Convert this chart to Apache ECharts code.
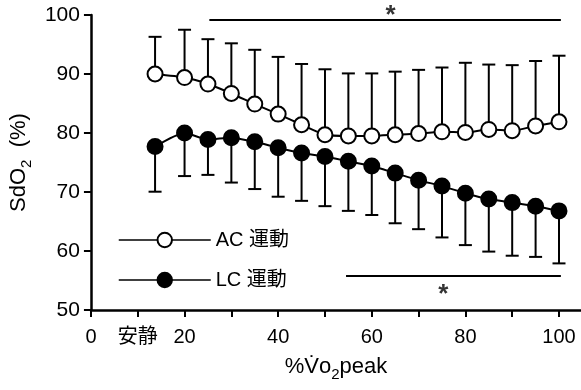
<!DOCTYPE html>
<html>
<head>
<meta charset="utf-8">
<script src="https://cdn.jsdelivr.net/npm/echarts@6/dist/echarts.min.js"></script>
<style>html,body{margin:0;padding:0;background:#fff}#c{width:581px;height:390px}</style>
</head>
<body>
<div id="c"></div>
<script>
var xValues = [13.7,20,25,30,35,40,45,50,55,60,65,70,75,80,85,90,95,100];
var acMean  = [90.0,89.4,88.3,86.7,84.9,83.2,81.4,79.7,79.5,79.5,79.7,79.9,80.2,80.1,80.6,80.4,81.2,81.9];
var acUpper = [96.3,97.5,95.9,95.2,94.1,92.9,91.7,90.8,90.1,90.1,90.4,90.7,91.1,91.9,91.6,91.5,92.2,93.1];
var lcMean  = [77.7,80.0,78.9,79.2,78.5,77.5,76.6,76.0,75.2,74.4,73.2,72.0,71.0,69.8,68.8,68.2,67.6,66.8];
var lcLower = [70.05,72.7,72.9,71.6,70.5,69.2,68.5,67.6,66.8,66.1,64.7,63.7,62.3,61.0,59.9,59.2,59.0,57.9];
var xTicks = [0,10,20,30,40,50,60,70,80,90,100];
var xLabels = [0,10,20,40,60,80,100];
var restLabel = '安静';
var sigTop = [[25.3,99.15],[100.4,99.15]];
var sigBottom = [[54.5,55.76],[100.4,55.76]];
var starTop = [64,101.0];
var starBottom = [75.3,53.7];

var FONT = '"Liberation Sans", "Noto Sans CJK JP", sans-serif';
function zip(a,b,c){ return a.map(function(v,i){ return c ? [v,b[i],c[i]] : [v,b[i]]; }); }
function errRender(params, api){
  var x = api.value(0), m = api.value(1), e = api.value(2);
  var p0 = api.coord([x,m]), p1 = api.coord([x,e]);
  return {type:'group', children:[
    {type:'line', shape:{x1:p0[0],y1:p0[1],x2:p1[0],y2:p1[1]}, style:{stroke:'#000',lineWidth:2}},
    {type:'line', shape:{x1:p1[0]-6.5,y1:p1[1],x2:p1[0]+6.5,y2:p1[1]}, style:{stroke:'#000',lineWidth:2}}
  ]};
}
var nameRich = {
  m:{fontSize:22, lineHeight:22, verticalAlign:'bottom', padding:[0,0,4,0], fontFamily:FONT, color:'#000'},
  s:{fontSize:15, lineHeight:15, verticalAlign:'bottom', fontFamily:FONT, color:'#000'}
};
var chart = echarts.init(document.getElementById('c'), null, {renderer:'canvas'});
chart.setOption({
  animation:false,
  backgroundColor:'#fff',
  textStyle:{fontFamily:FONT, color:'#000'},
  grid:{left:89, top:15, width:492, height:295, containLabel:false},
  legend:{
    orient:'vertical', left:118, top:230, padding:0, itemWidth:92, itemHeight:18, itemGap:20,
    data:['AC 運動','LC 運動'],
    lineStyle:{width:1.5},
    textStyle:{fontFamily:FONT, fontSize:20, color:'#000'}
  },
  xAxis:{
    type:'value', min:0, max:104.7,
    axisLine:{lineStyle:{color:'#000', width:2.5}},
    axisTick:{show:true, length:7, inside:false, customValues:xTicks, lineStyle:{color:'#000', width:2}},
    axisLabel:{customValues:xLabels, margin:17, fontSize:20, color:'#000', fontFamily:FONT,
      formatter:function(v){ return v===10 ? restLabel : String(v); }},
    splitLine:{show:false},
    name:'{m|%V̇o}{s|2}{m|peak}', nameLocation:'middle', nameGap:50,
    nameTextStyle:{rich:nameRich}
  },
  yAxis:{
    type:'value', min:50, max:100, interval:10,
    axisLine:{show:true, lineStyle:{color:'#000', width:2.5}},
    axisTick:{show:true, length:7, inside:false, lineStyle:{color:'#000', width:2}},
    axisLabel:{margin:11, fontSize:21, color:'#000', fontFamily:FONT},
    splitLine:{show:false},
    name:'{m|SdO}{s|2}{m|  (%)}', nameLocation:'middle', nameGap:45, nameRotate:90,
    nameTextStyle:{rich:nameRich}
  },
  series:[
    {type:'custom', name:'acErr', renderItem:errRender, data:zip(xValues,acMean,acUpper), z:1, silent:true},
    {type:'custom', name:'lcErr', renderItem:errRender, data:zip(xValues,lcMean,lcLower), z:1, silent:true},
    {type:'line', name:'sigTop', data:sigTop, symbol:'none', lineStyle:{color:'#000', width:2}, z:1, silent:true},
    {type:'line', name:'sigBottom', data:sigBottom, symbol:'none', lineStyle:{color:'#000', width:2}, z:1, silent:true},
    {type:'scatter', name:'stars', data:[starTop, starBottom], symbolSize:0, clip:false, silent:true,
      label:{show:true, position:'inside', formatter:'*', fontSize:26, fontWeight:'bold', color:'#000', offset:[0,7], fontFamily:FONT}},
    {type:'line', name:'AC 運動', data:zip(xValues,acMean), smooth:0.2, symbol:'circle', symbolSize:15,
      lineStyle:{color:'#000', width:2}, itemStyle:{color:'#fff', borderColor:'#000', borderWidth:2}, z:3},
    {type:'line', name:'LC 運動', data:zip(xValues,lcMean), smooth:0.2, symbol:'circle', symbolSize:15,
      lineStyle:{color:'#000', width:2}, itemStyle:{color:'#000', borderColor:'#000', borderWidth:2}, z:3}
  ]
});
</script>
</body>
</html>
